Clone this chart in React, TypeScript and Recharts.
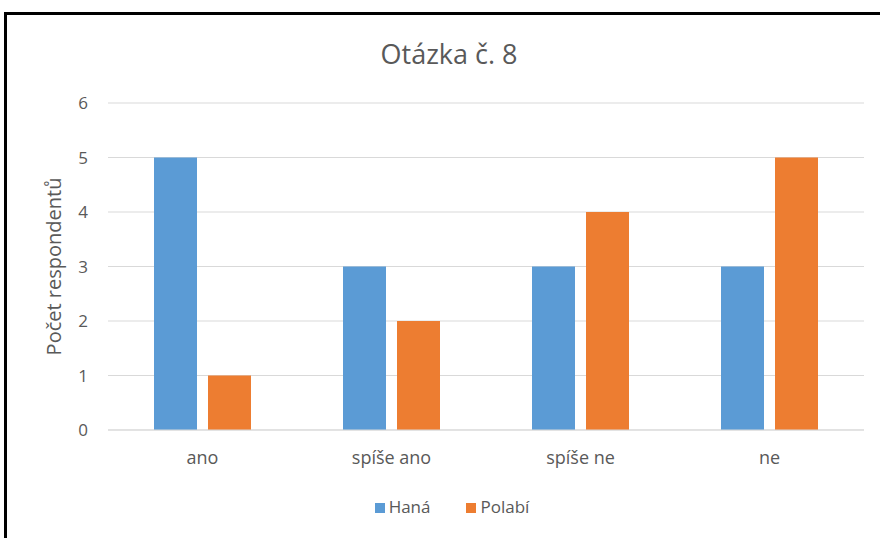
import { Bar, BarChart, CartesianGrid, Legend, XAxis, YAxis } from "recharts";

const categories = ["ano", "spíše ano", "spíše ne", "ne"];
const hana = [5, 3, 3, 3];
const polabi = [1, 2, 4, 5];
const yTicks = [0, 1, 2, 3, 4, 5, 6];

const data = categories.map((name, i) => ({
  name,
  hana: hana[i],
  polabi: polabi[i],
}));

const font = "'Open Sans', 'Noto Sans', sans-serif";
const textColor = "#595959";

export default function App() {
  return (
    <div
      style={{
        position: "fixed",
        left: 0,
        top: 0,
        width: 880,
        height: 538,
        background: "#fff",
        fontFamily: font,
      }}
    >
      {/* frame: only the top and left edges are visible */}
      <div
        style={{
          position: "absolute",
          left: 4,
          top: 12,
          width: 876,
          height: 526,
          borderTop: "3px solid #000",
          borderLeft: "3px solid #000",
          boxSizing: "border-box",
        }}
      />
      <div
        style={{
          position: "absolute",
          left: 0,
          width: 898,
          top: 35,
          textAlign: "center",
          fontSize: 27,
          color: textColor,
        }}
      >
        Otázka č. 8
      </div>
      <div style={{ position: "absolute", left: 0, top: 0 }}>
        <BarChart
          width={880}
          height={538}
          data={data}
          margin={{ top: 103, right: 16, bottom: 68, left: 68 }}
          barGap={11}
          barSize={43}
        >
          <CartesianGrid vertical={false} stroke="#d9d9d9" />
          <XAxis
            dataKey="name"
            tickLine={false}
            axisLine={{ stroke: "#d9d9d9" }}
            tick={{ fontSize: 18, fill: textColor, fontFamily: font }}
            tickMargin={15}
            height={40}
          />
          <YAxis
            domain={[0, 6]}
            ticks={yTicks}
            width={40}
            tickLine={false}
            axisLine={false}
            tick={{ fontSize: 17, fill: textColor, fontFamily: font }}
            tickMargin={14}
            label={{
              value: "Počet respondentů",
              angle: -90,
              position: "insideLeft",
              offset: -14,
              style: {
                textAnchor: "middle",
                fontSize: 20,
                fill: textColor,
                fontFamily: font,
              },
            }}
          />
          {/* middle alignment keeps the legend from shrinking the plot; top places it */}
          <Legend
            verticalAlign="middle"
            align="center"
            layout="horizontal"
            iconType="square"
            iconSize={10}
            wrapperStyle={{
              top: 495,
              left: 0,
              width: 914,
              fontSize: 17,
              fontFamily: font,
            }}
            formatter={(value, _entry, index) => (
              <span style={{ color: textColor, marginRight: index === 0 ? 26 : 0 }}>
                {value}
              </span>
            )}
          />
          <Bar
            dataKey="hana"
            name="Haná"
            fill="#5b9bd5"
            isAnimationActive={false}
          />
          <Bar
            dataKey="polabi"
            name="Polabí"
            fill="#ed7d31"
            isAnimationActive={false}
          />
        </BarChart>
      </div>
    </div>
  );
}
